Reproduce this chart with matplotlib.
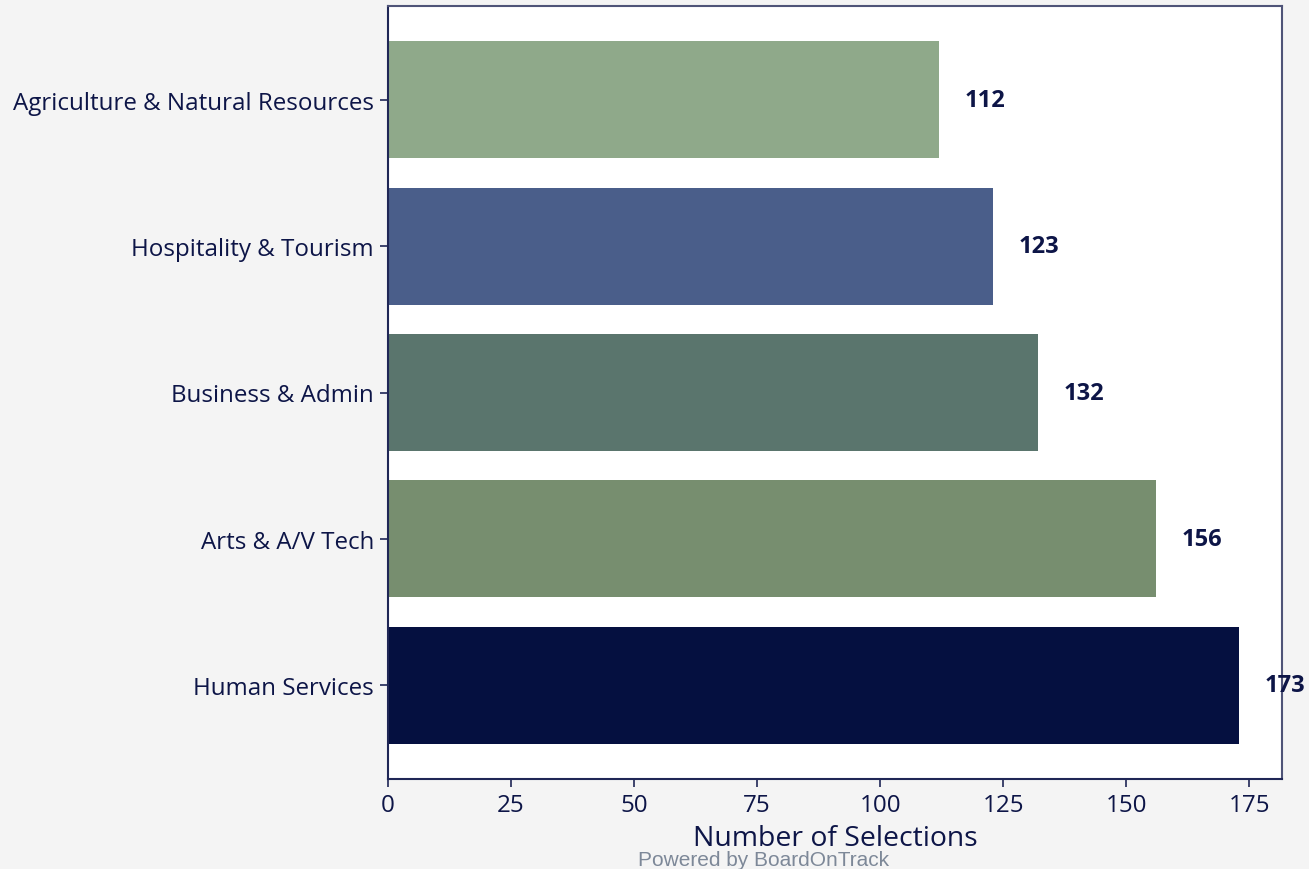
import matplotlib
matplotlib.use("Agg")
import matplotlib.pyplot as plt

categories = ["Human Services", "Arts & A/V Tech", "Business & Admin",
              "Hospitality & Tourism", "Agriculture & Natural Resources"]
values = [173, 156, 132, 123, 112]
colors = ["#051040", "#778e6f", "#5a756d", "#4a5e8a", "#8fa98a"]
xticks = [0, 25, 50, 75, 100, 125, 150, 175]

navy = "#0d1547"
plt.rcParams['font.family'] = ['Open Sans', 'DejaVu Sans']

fig = plt.figure(figsize=(13.09, 8.70), dpi=100)
fig.patch.set_facecolor("#f4f4f4")
ax = fig.add_axes([388/1309, 1-780/870, (1282-388)/1309, (780-7)/870])
ax.set_facecolor("white")

ypos = list(range(len(categories)))
ax.barh(ypos, values, height=0.8, color=colors)
ax.set_yticks(ypos)
ax.set_yticklabels(categories)
ax.set_xticks(xticks)
ax.set_xlim(0, max(values) * 1.05)

off = max(values) * 0.03
for y, v in zip(ypos, values):
    ax.text(v + off, y, str(v), ha="left", va="center", fontsize=17,
            fontweight="bold", color=navy, clip_on=False)

for name, s in ax.spines.items():
    s.set_linewidth(1.5)
    s.set_color("#1f2656" if name in ("left", "bottom") else "#4f5478")
ax.tick_params(axis="both", colors="#1f2656", labelcolor=navy, labelsize=17.4,
               length=6, width=1.2, pad=4)
ax.set_xlabel("Number of Selections", fontsize=20.4, color=navy, labelpad=5)

fig.text(764/1309, 1-861/870, "Powered by BoardOnTrack", ha="center", va="center",
         fontsize=15, color="#7d8898", family=["Liberation Sans", "DejaVu Sans"])

fig.savefig("out.png", dpi=100, facecolor=fig.get_facecolor())
